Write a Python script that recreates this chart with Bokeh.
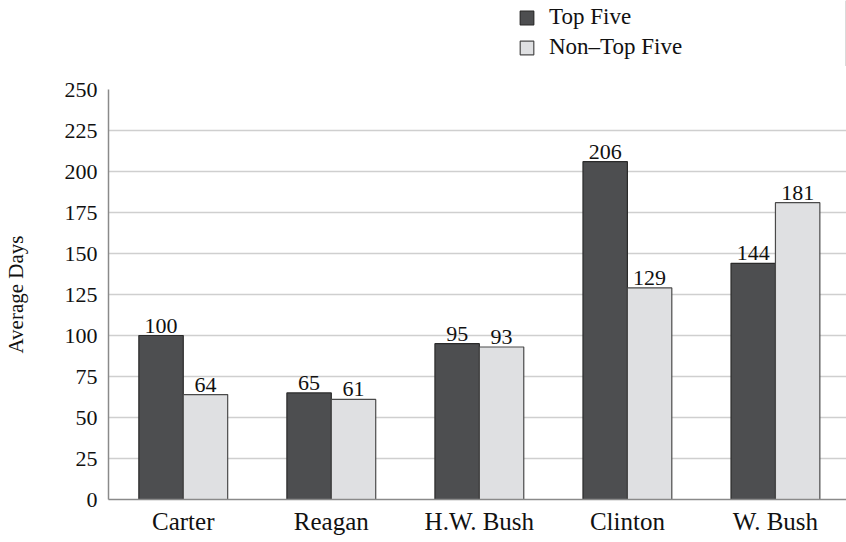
from bokeh.plotting import figure
from bokeh.layouts import column
from bokeh.models import ColumnDataSource, Range1d, FixedTicker, Legend, LegendItem
from bokeh.embed import file_html
from bokeh.resources import INLINE
from bokeh.core.properties import value

categories = ["Carter", "Reagan", "H.W. Bush", "Clinton", "W. Bush"]
top_five = [100, 65, 95, 206, 144]
non_top_five = [64, 61, 93, 129, 181]
y_ticks = [0, 25, 50, 75, 100, 125, 150, 175, 200, 225, 250]
series_names = ["Top Five", "Non\u2013Top Five"]

FONT = "Liberation Serif"
DARK = "#4d4e50"
LIGHT = "#dfe0e2"
DARK_LINE = "#2a2a2a"
LIGHT_LINE = "#4a4a4a"

idx = [i + 0.5 for i in range(len(categories))]
bw = 0.30
src_top = ColumnDataSource(dict(x=[v - bw / 2 for v in idx], y=top_five,
                                lbl=[str(v) for v in top_five]))
src_non = ColumnDataSource(dict(x=[v + bw / 2 for v in idx], y=non_top_five,
                                lbl=[str(v) for v in non_top_five]))

# ---- legend strip on top ----
LEG_H = 66
pl = figure(width=846, height=LEG_H, output_backend="svg", toolbar_location=None,
            x_range=Range1d(0, 1), y_range=Range1d(0, 1),
            x_axis_location=None, y_axis_location=None,
            min_border_left=0, min_border_right=0, min_border_top=0,
            min_border_bottom=0)
pl.outline_line_color = None
pl.xgrid.grid_line_color = None
pl.ygrid.grid_line_color = None
# proxy renderers placed outside the visible range: only their legend swatches show
d1 = pl.vbar(x=[10], top=[1], width=0.1, fill_color=DARK, line_color=DARK_LINE,
             line_width=1.2)
d2 = pl.vbar(x=[10], top=[1], width=0.1, fill_color=LIGHT, line_color=LIGHT_LINE,
             line_width=1.2)
legend = Legend(items=[LegendItem(label=series_names[0], renderers=[d1]),
                       LegendItem(label=series_names[1], renderers=[d2])],
                location=(410, 6), orientation="vertical",
                glyph_width=17, glyph_height=17, label_height=17,
                spacing=4, padding=0, margin=0, label_standoff=14,
                label_text_font=FONT, label_text_font_size="23px",
                label_text_color="#111111",
                border_line_color=None, background_fill_alpha=0)
pl.add_layout(legend)

# ---- main chart ----
p = figure(width=846, height=472, output_backend="svg", toolbar_location=None,
           x_range=Range1d(-0.005, 4.98), y_range=Range1d(0, 250),
           min_border_left=107, min_border_right=0, min_border_top=89 - LEG_H,
           min_border_bottom=39)
p.outline_line_color = None
p.background_fill_color = "white"

p.vbar(x="x", top="y", width=bw, source=src_top, fill_color=DARK,
       line_color=DARK_LINE, line_width=1.2)
p.vbar(x="x", top="y", width=bw, source=src_non, fill_color=LIGHT,
       line_color=LIGHT_LINE, line_width=1.2)

for s in (src_top, src_non):
    p.text(x="x", y="y", text="lbl", source=s, text_align="center",
           text_baseline="bottom", y_offset=-3, text_font=value(FONT),
           text_font_size="22px", text_color="#111111")

p.xaxis.ticker = FixedTicker(ticks=idx)
p.xaxis.major_label_overrides = {v: c for v, c in zip(idx, categories)}
p.yaxis.ticker = FixedTicker(ticks=y_ticks)
for ax in (p.xaxis, p.yaxis):
    ax.major_tick_line_color = None
    ax.minor_tick_line_color = None
    ax.major_tick_out = 0
    ax.major_tick_in = 0
    ax.minor_tick_out = 0
    ax.axis_line_color = "#8a8a8a"
    ax.axis_line_width = 1.5
    ax.major_label_text_font = FONT
    ax.major_label_text_color = "#111111"
p.xaxis.major_label_text_font_size = "25px"
p.yaxis.major_label_text_font_size = "22px"
p.xaxis.major_label_standoff = 8
p.yaxis.major_label_standoff = 11
p.yaxis.axis_label = "Average Days"
p.yaxis.axis_label_text_font = FONT
p.yaxis.axis_label_text_font_size = "21px"
p.yaxis.axis_label_text_font_style = "normal"
p.yaxis.axis_label_text_color = "#111111"
p.yaxis.axis_label_standoff = 34

p.xgrid.grid_line_color = None
p.ygrid.ticker = FixedTicker(ticks=y_ticks)
p.ygrid.grid_line_color = "#cfcfcf"
p.ygrid.grid_line_width = 1.5

layout = column(pl, p, spacing=0)
open("out.html", "w").write(file_html(layout, INLINE))
